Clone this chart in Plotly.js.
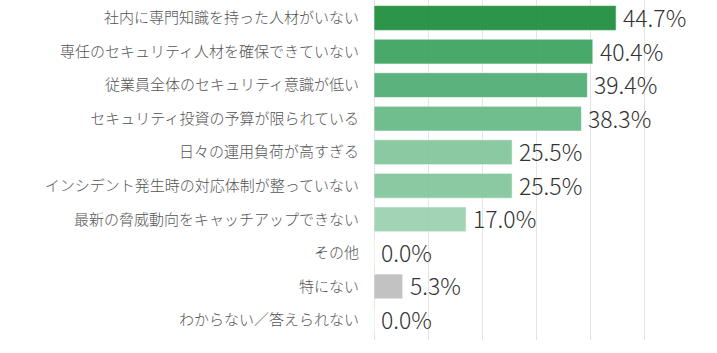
<!DOCTYPE html>
<html><head><meta charset="utf-8">
<script src="https://cdn.plot.ly/plotly-3.0.1.min.js"></script>
<style>html,body{margin:0;padding:0;background:#fff;}#chart{width:717px;height:353px;}</style>
</head><body><div id="chart"></div>
<script>
const categories = [
  "社内に専門知識を持った人材がいない",
  "専任のセキュリティ人材を確保できていない",
  "従業員全体のセキュリティ意識が低い",
  "セキュリティ投資の予算が限られている",
  "日々の運用負荷が高すぎる",
  "インシデント発生時の対応体制が整っていない",
  "最新の脅威動向をキャッチアップできない",
  "その他",
  "特にない",
  "わからない／答えられない"
];
const values = [44.7, 40.4, 39.4, 38.3, 25.5, 25.5, 17.0, 0.0, 5.3, 0.0];
const barColors = ["#1f8f3e","#3da462","#52ae75","#68ba88","#83c69c","#83c69c","#9bd2b1","#c4c4c4","#bfbfbf","#c4c4c4"];
const valueLabels = values.map(v => v.toFixed(1) + "%");

const trace = {
  type: "bar",
  orientation: "h",
  y: categories,
  x: values,
  marker: {color: barColors, opacity: 0.94, line: {color: "rgba(255,255,255,0.6)", width: 1}},
  hoverinfo: "none"
};

const annotations = values.map((v, i) => ({
  x: v, y: categories[i], xref: "x", yref: "y",
  text: valueLabels[i], showarrow: false,
  xanchor: "left", yanchor: "middle", xshift: 5, yshift: 1,
  font: {family: "Noto Sans CJK JP, Noto Sans, sans-serif", size: 23, weight: 300, color: "#333"}
}));

const layout = {
  width: 717, height: 353,
  margin: {l: 374, r: 18, t: 0, b: 13, pad: 0},
  paper_bgcolor: "#fff", plot_bgcolor: "#fff",
  showlegend: false,
  bargap: 0.26,
  font: {family: "Noto Sans CJK JP, sans-serif", color: "#555"},
  xaxis: {
    range: [0, 60], dtick: 10, tick0: 0,
    showgrid: true, gridcolor: "#e3e3e3", gridwidth: 1,
    zeroline: true, zerolinecolor: "#e3e3e3", zerolinewidth: 1,
    showticklabels: false, ticks: "", showline: false, fixedrange: true
  },
  yaxis: {
    autorange: "reversed", ticks: "", showline: false, showgrid: false,
    ticklabelstandoff: 14,
    tickfont: {family: "Noto Sans CJK JP, sans-serif", size: 15, weight: 300, color: "#555"}
  },
  annotations: annotations
};

Plotly.newPlot("chart", [trace], layout, {displayModeBar: false, staticPlot: true});
</script></body></html>
